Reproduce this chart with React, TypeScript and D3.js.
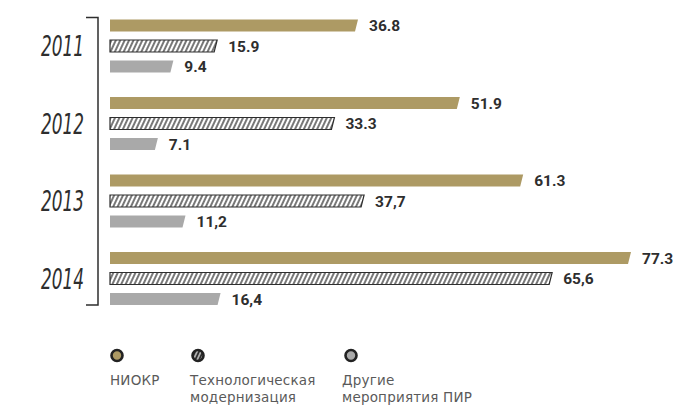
import React from "react";
import * as d3 from "d3";

const years = ["2011", "2012", "2013", "2014"];
const series = ["НИОКР", "Технологическая модернизация", "Другие мероприятия ПИР"];
const niokr = [36.8, 51.9, 61.3, 77.3];
const tech = [15.9, 33.3, 37.7, 65.6];
const other = [9.4, 7.1, 11.2, 16.4];
const niokrLabels = ["36.8", "51.9", "61.3", "77.3"];
const techLabels = ["15.9", "33.3", "37,7", "65,6"];
const otherLabels = ["9.4", "7.1", "11,2", "16,4"];
const legendLines = [["НИОКР"], ["Технологическая", "модернизация"], ["Другие", "мероприятия ПИР"]];

const GOLD = "#ad9a64";
const GRAY = "#a9a9a9";
const DARK = "#2e2e2e";

export default function App() {
  const W = 677, H = 406;
  const x = d3.scaleLinear().domain([0, 77.3]).range([110, 631]);
  const yGroup = d3.scaleBand<string>().domain(years).range([19.5, 19.5 + 4 * 77.5]);
  const ySeries = d3.scaleBand<string>().domain(series).range([0, 61.5]);
  const barH = 12;
  const slant = 3;
  const values = [niokr, tech, other];
  const labels = [niokrLabels, techLabels, otherLabels];
  const legendX = d3.scaleOrdinal<string, number>().domain(series).range([117, 198, 351]);
  const legendTextX = d3.scaleOrdinal<string, number>().domain(series).range([110, 190, 342]);

  const barPath = (v: number, y: number) => {
    const x0 = x(0), x1 = x(v);
    return `M${x0},${y}L${x1},${y}L${x1 - slant},${y + barH}L${x0},${y + barH}Z`;
  };

  return (
    <svg width={W} height={H} style={{ position: "absolute", left: 0, top: 0 }}>
      <defs>
        <pattern id="hatch" width="4" height="4" patternUnits="userSpaceOnUse" patternTransform="rotate(25)">
          <rect width="4" height="4" fill="#fff" />
          <line x1="2" y1="0" x2="2" y2="4" stroke={DARK} strokeWidth="1.3" />
        </pattern>
        <pattern id="hatchL" width="3.5" height="3.5" patternUnits="userSpaceOnUse" patternTransform="rotate(25)">
          <rect width="3.5" height="3.5" fill={DARK} />
          <line x1="1.75" y1="0" x2="1.75" y2="3.5" stroke="#fff" strokeWidth="1.1" />
        </pattern>
      </defs>
      <rect width={W} height={H} fill="#fff" />
      {/* bracket */}
      <path d={`M86,17.5H98V305H86`} fill="none" stroke={DARK} strokeWidth={1.5} />
      {years.map((yr, gi) => {
        const gy = yGroup(yr)!;
        const hatchY = gy + ySeries(series[1])!;
        return (
          <g key={yr}>
            <text
              x={84}
              y={hatchY + barH / 2 + 10}
              textAnchor="end"
              fontFamily="DejaVu Sans"
              fontStyle="italic"
              fontSize={28}
              fill={DARK}
              textLength={43}
              lengthAdjust="spacingAndGlyphs"
            >
              {yr}
            </text>
            {series.map((s, si) => {
              const v = values[si][gi];
              const by = gy + ySeries(s)!;
              const fill = si === 0 ? GOLD : si === 1 ? "url(#hatch)" : GRAY;
              return (
                <g key={s}>
                  <path
                    d={barPath(v, by)}
                    fill={fill}
                    stroke={si === 1 ? DARK : "none"}
                    strokeWidth={si === 1 ? 1.2 : 0}
                  />
                  <text
                    x={x(v) + 11}
                    y={by + barH / 2 + 5.5}
                    fontFamily="Roboto"
                    fontWeight={700}
                    fontSize={15.5}
                    fill={DARK}
                  >
                    {labels[si][gi]}
                  </text>
                </g>
              );
            })}
          </g>
        );
      })}
      {/* legend */}
      {series.map((s, si) => (
        <g key={s}>
          <circle
            cx={legendX(s)}
            cy={355.5}
            r={5.5}
            fill={si === 0 ? GOLD : si === 1 ? "url(#hatchL)" : GRAY}
            stroke="#222"
            strokeWidth={2.6}
          />
          {legendLines[si].map((line, li) => (
            <text
              key={li}
              x={legendTextX(s)}
              y={385 + li * 17}
              fontFamily="DejaVu Sans"
              fontSize={13.5}
              letterSpacing={0.2}
              fill="#5a5a5a"
            >
              {line}
            </text>
          ))}
        </g>
      ))}
    </svg>
  );
}
